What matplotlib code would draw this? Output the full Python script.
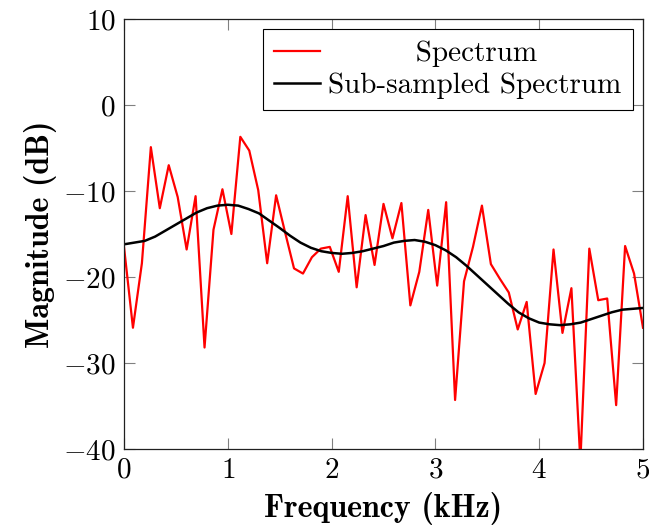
import numpy as np
import matplotlib
matplotlib.use("Agg")
import matplotlib.pyplot as plt

# Spectrum: 59 bins evenly spaced over 0..5 kHz
freq = np.linspace(0, 5, 59)
spectrum = [
    -16.5, -25.9, -18.4, -4.9, -12.0, -7.0, -10.7, -16.8, -10.6, -28.2,
    -14.5, -9.8, -15.0, -3.7, -5.3, -9.9, -18.4, -10.5, -14.8, -19.0,
    -19.6, -17.7, -16.7, -16.5, -19.4, -10.6, -21.2, -12.8, -18.6, -11.5,
    -15.5, -11.4, -23.3, -19.4, -12.2, -21.0, -11.3, -34.3, -20.5, -16.5,
    -11.7, -18.5, -20.2, -21.8, -26.1, -22.9, -33.6, -30.0, -16.8, -26.5,
    -21.3, -41.5, -16.7, -22.7, -22.5, -34.9, -16.4, -19.6, -25.9,
]

# Sub-sampled spectrum, every 0.1 kHz
sub_freq = np.linspace(0, 5, 51)
sub_spectrum = [
    -16.2, -16.0, -15.8, -15.3, -14.6, -13.9, -13.2, -12.5, -12.0, -11.7,
    -11.6, -11.7, -12.1, -12.6, -13.45, -14.3, -15.2, -16.0, -16.6, -17.0,
    -17.2, -17.3, -17.2, -17.0, -16.7, -16.4, -16.0, -15.8, -15.7, -15.9,
    -16.3, -16.9, -17.7, -18.7, -19.8, -20.9, -22.0, -23.1, -24.1, -24.8,
    -25.3, -25.5, -25.6, -25.5, -25.3, -24.9, -24.5, -24.1, -23.8, -23.7,
    -23.6,
]

xticks = [0, 1, 2, 3, 4, 5]
yticks = [-40, -30, -20, -10, 0, 10]

plt.rcParams["font.family"] = "cmr10"
plt.rcParams["mathtext.fontset"] = "cm"
plt.rcParams["axes.formatter.use_mathtext"] = True

fig = plt.figure(figsize=(6.49, 5.29), dpi=100)
ax = fig.add_axes([124 / 649, 80 / 529, 519 / 649, 430 / 529])

ax.plot(freq, spectrum, color="#ff0000", linewidth=1.6,
        label="         Spectrum")
ax.plot(sub_freq, sub_spectrum, color="black", linewidth=1.8,
        label="Sub-sampled Spectrum")

ax.set_xlim(0, 5)
ax.set_ylim(-40, 10)
ax.set_xticks(xticks)
ax.set_yticks(yticks)
ax.tick_params(direction="in", length=8, width=0.8, color="#808080",
               top=True, right=True, labelsize=21, pad=6)
for s in ax.spines.values():
    s.set_linewidth(0.9)
    s.set_color("#202020")

ax.set_xlabel("Frequency (kHz)", fontsize=23, fontfamily="cmb10",
              labelpad=6)
ax.set_ylabel("Magnitude (dB)", fontsize=23, fontfamily="cmb10",
              labelpad=4)

leg = ax.legend(loc="upper right", fontsize=21, fancybox=False,
                framealpha=1, edgecolor="black", borderaxespad=0.35,
                handlelength=1.6, handletextpad=0.28, labelspacing=0.2,
                borderpad=0.38)
leg.get_frame().set_linewidth(0.8)

fig.savefig("out.png", dpi=100)
